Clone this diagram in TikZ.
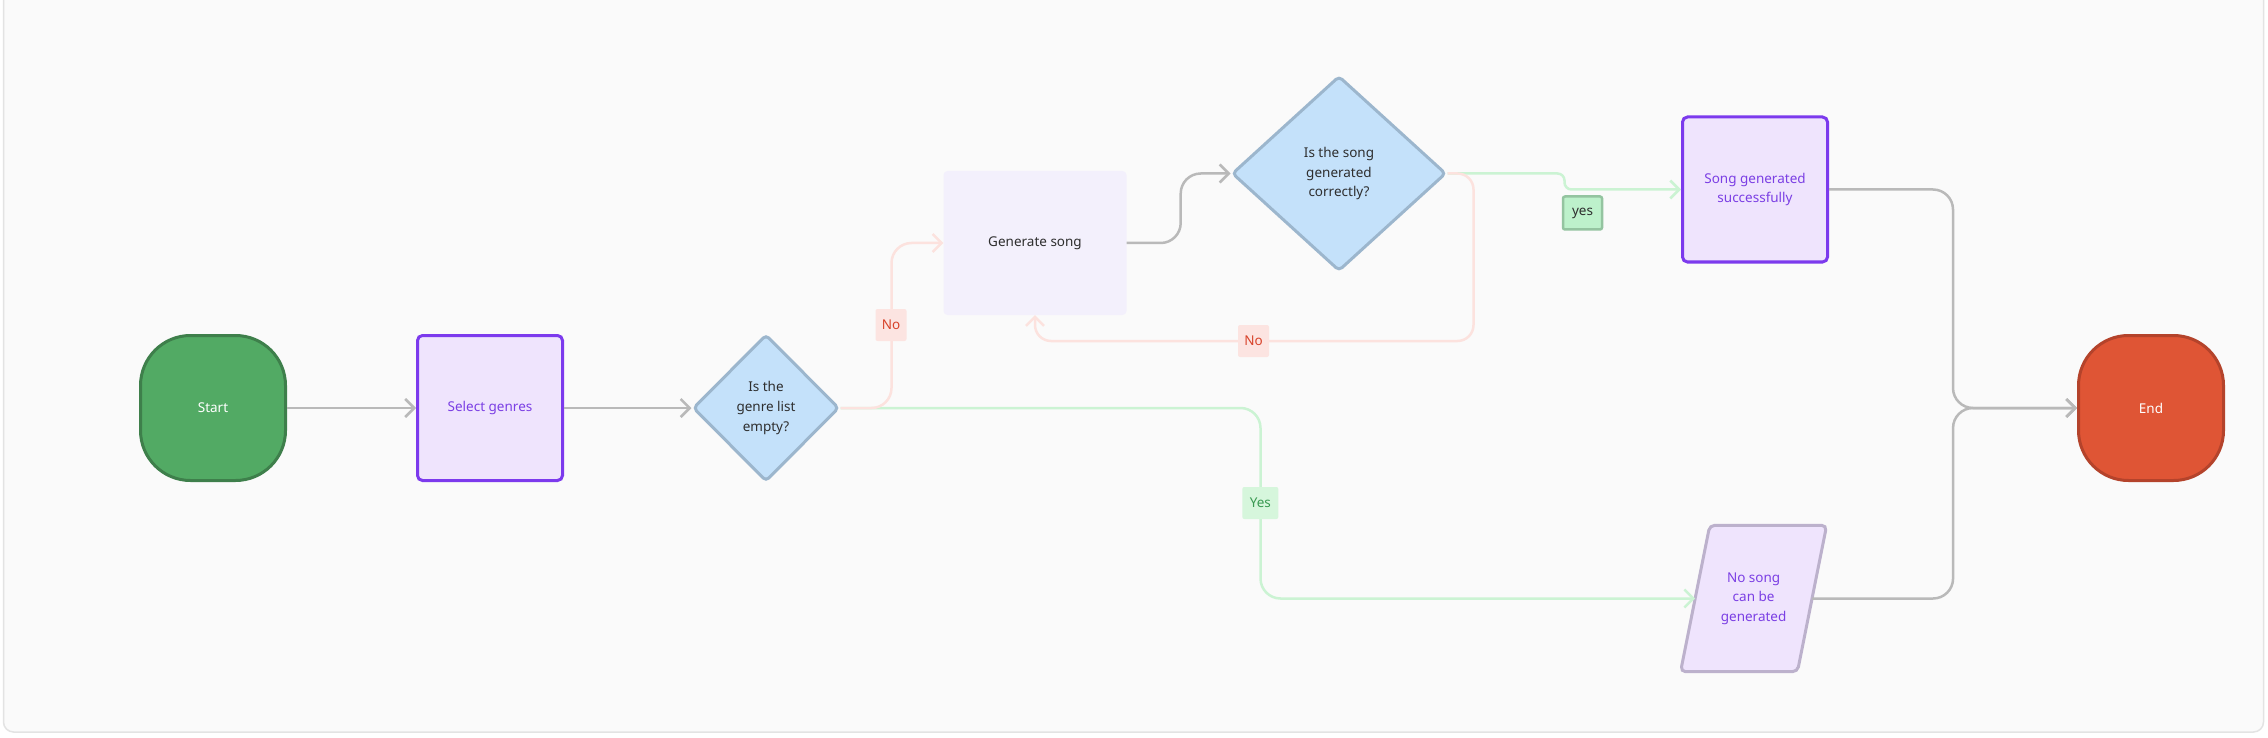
\documentclass[tikz,border=0pt]{standalone}
\usepackage{fontspec}
\setmainfont{Noto Sans}
\usetikzlibrary{shapes.geometric,arrows.meta,calc,backgrounds}
\definecolor{bgC}{HTML}{FAFAFA}
\definecolor{frameC}{HTML}{E3E3E3}
\definecolor{grayC}{HTML}{B9B9B9}
\definecolor{pinkC}{HTML}{FCE2DE}
\definecolor{pinkLab}{HTML}{FCE4E1}
\definecolor{redText}{HTML}{D8432B}
\definecolor{greenC}{HTML}{CBF3D3}
\definecolor{greenLab}{HTML}{D6F6DC}
\definecolor{greenText}{HTML}{3A9A52}
\definecolor{yesFill}{HTML}{BDF1CB}
\definecolor{yesBorder}{HTML}{94C4A0}
\definecolor{diaFill}{HTML}{C4E1FA}
\definecolor{diaBorder}{HTML}{9CB6CD}
\definecolor{purFill}{HTML}{EFE4FD}
\definecolor{purBorder}{HTML}{7C3AED}
\definecolor{purText}{HTML}{7B3FE4}
\definecolor{genFill}{HTML}{F3F0FC}
\definecolor{darkText}{HTML}{2E2E2E}
\definecolor{paraBorder}{HTML}{BCB1CC}
\definecolor{startFill}{HTML}{52AA64}
\definecolor{startBorder}{HTML}{3E7F4B}
\definecolor{endFill}{HTML}{DF5535}
\definecolor{endBorder}{HTML}{B4432B}
\tikzset{
  txt/.style={font=\fontsize{13.5}{19.7}\selectfont, align=center},
  terminal/.style={txt, draw, line width=3pt, rounded corners=50pt, minimum width=145pt, minimum height=145pt, inner sep=0pt, text=white},
  procbox/.style={txt, draw=purBorder, fill=purFill, line width=3pt, rounded corners=5pt, minimum width=145pt, minimum height=145pt, inner sep=0pt, text=purText},
  decision/.style={txt, shape=diamond, draw=diaBorder, fill=diaFill, line width=3pt, rounded corners=4pt, inner sep=0pt, text=darkText},
  conn/.style={line width=2.5pt, rounded corners=20pt, -{Straight Barb[length=9pt,width=18pt,line width=2.5pt]}},
  grayconn/.style={conn, draw=grayC},
  pinkconn/.style={conn, draw=pinkC},
  greenconn/.style={conn, draw=greenC},
  lab/.style={txt, minimum width=31pt, minimum height=32pt, inner sep=0pt, rounded corners=2pt},
}
\begin{document}
\begin{tikzpicture}[x=1pt,y=-1pt]
\useasboundingbox (0,0) rectangle (2268,738);
\begin{scope}[on background layer]
  \fill[white] (0,0) rectangle (2268,738);
  \draw[fill=bgC, draw=frameC, line width=1.5pt, rounded corners=10pt] (3.5,-20) rectangle (2263.5,732);
\end{scope}

\node[terminal, draw=startBorder, fill=startFill] (start) at (213,408) {Start};
\node[procbox] (select) at (490,408) {Select genres};
\node[decision, minimum width=146pt, minimum height=147pt] (d1) at (766,408) {Is the\\genre list\\empty?};
\node[txt, fill=genFill, rounded corners=4pt, minimum width=183pt, minimum height=144pt, inner sep=0pt, text=darkText] (gen) at (1035,243) {Generate song};
\node[decision, minimum width=214pt, minimum height=195pt] (d2) at (1339,173.5) {Is the song\\generated\\correctly?};
\node[procbox] (ok) at (1755,189.5) {Song generated\\successfully};
\node[txt, minimum width=116.5pt, minimum height=146pt, inner sep=0pt, text=purText] (nosong) at (1753.6,598.5) {No song\\can be\\generated};
\begin{scope}[on background layer]
  \draw[draw=paraBorder, fill=purFill, line width=3pt, rounded corners=5pt]
    ($(nosong.north west)+(14.6,0)$) -- ($(nosong.north east)+(14.6,0)$) --
    ($(nosong.south east)+(-14.6,0)$) -- ($(nosong.south west)+(-14.6,0)$) -- cycle;
\end{scope}
\node[terminal, draw=endBorder, fill=endFill] (end) at (2151,408) {End};

% connectors
\draw[grayconn] (start) -- (select);
\draw[grayconn] (select) -- (d1);
\draw[greenconn] (d1.east) -- ++(420,0) |- (nosong.west);
\draw[pinkconn] (d1.east) -- ++(51,0) |- (gen.west);
\draw[grayconn] (gen.east) -- ++(54,0) |- (d2.west);
\draw[greenconn, rounded corners=7pt] (d2.east) -- ++(117,0) |- (ok.west);
\draw[pinkconn, rounded corners=16pt] (d2.east) -- ++(26,0) -- ++(0,167.5) -| (gen.south);
\draw[grayconn] (ok.east) -- ++(124,0) |- (end.west);
\draw[grayconn] (nosong.east) -- ++(141,0) |- (end.west);

% labels
\node[lab, fill=pinkLab, text=redText] (no1) at (891,325) {No};
\node[lab, fill=pinkLab, text=redText] (no2) at (1253.5,341) {No};
\node[lab, fill=greenLab, text=greenText, minimum width=36pt] (yes1) at (1260.3,503) {Yes};
\node[lab, fill=yesFill, draw=yesBorder, line width=2.5pt, text=darkText, minimum width=39pt, minimum height=33pt] (yes2) at (1582.5,213) {yes};
\end{tikzpicture}
\end{document}
